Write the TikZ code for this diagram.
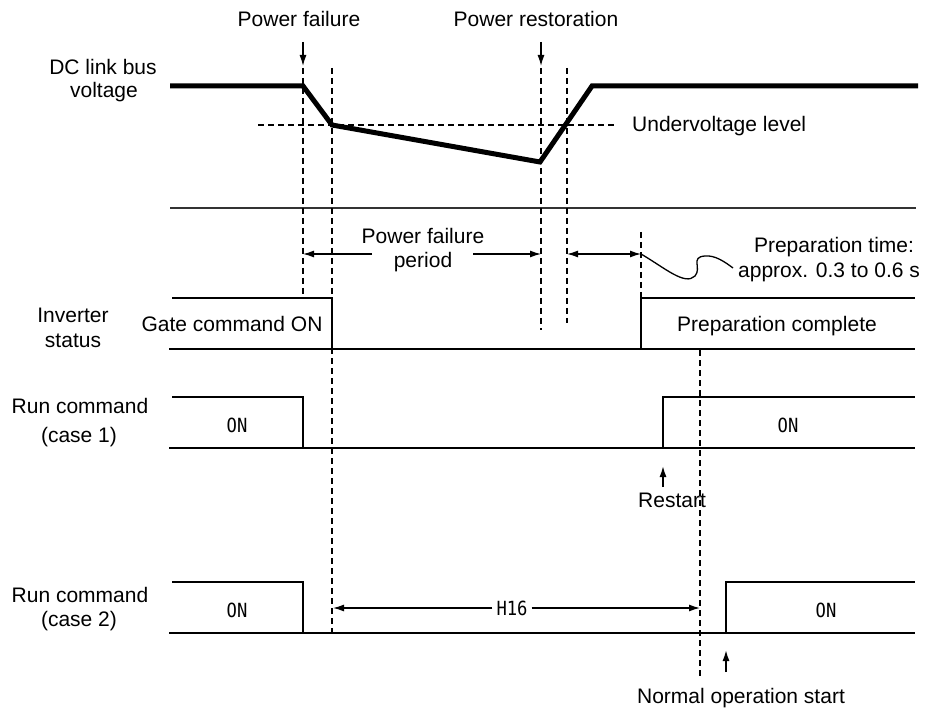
\documentclass[tikz,border=0pt]{standalone}
\usepackage{fontspec}
\setmainfont{Liberation Sans}
\newfontfamily\onfont[FakeStretch=0.88]{DejaVu Sans Mono}
\usetikzlibrary{arrows.meta}
\begin{document}
\begin{tikzpicture}[x=1pt,y=-1pt,
  lbl/.style={font=\fontsize{21}{25}\selectfont, inner sep=0pt, anchor=base},
  onl/.style={font=\onfont\fontsize{19.5}{22}\selectfont, inner sep=0pt},
  sig/.style={line width=1.6pt},
  sepline/.style={line width=1.2pt, black!80},
  bus/.style={line width=5pt, line join=miter},
  dsh/.style={dash pattern=on 6pt off 4pt, line width=1.3pt},
  bigdsh/.style={dash pattern=on 6pt off 4pt, line width=2.4pt},
  arr/.style={-{Latex[length=11pt,width=7pt]}, line width=1.3pt},
  darr/.style={{Latex[length=11pt,width=7pt]}-{Latex[length=11pt,width=7pt]}, line width=1.3pt},
]
\useasboundingbox (0,0) rectangle (928,708);

% ---------- labels ----------
\node[lbl] (pf) at (299,27) {Power failure};
\node[lbl] (pr) at (536,27) {Power restoration};
\node[lbl] (dca) at (103,75) {DC link bus};
\node[lbl] (dcb) at (104,98) {voltage};
\node[lbl, anchor=base west] (uv) at (632,132) {Undervoltage level};
\node[lbl] (pfpa) at (423,244) {Power failure};
\node[lbl] (pfpb) at (423,268) {period};
\node[lbl] (pta) at (834,253) {Preparation time:};
\node[lbl] (ptb) at (829,278) {approx. 0.3 to 0.6 s};
\node[lbl] (inva) at (73,323) {Inverter};
\node[lbl] (invb) at (73,347) {status};
\node[lbl] (gate) at (232,331) {Gate command ON};
\node[lbl] (prep) at (777,331) {Preparation complete};
\node[lbl] (rc1a) at (80,413) {Run command};
\node[lbl] (rc1b) at (79,442) {(case 1)};
\node[lbl] (rest) at (672,507) {Restart};
\node[lbl] (rc2a) at (80,602) {Run command};
\node[lbl] (rc2b) at (79,626) {(case 2)};
\node[lbl] (nos) at (741,703) {Normal operation start};
\node[onl] (on1) at (237,425) {ON};
\node[onl] (on2) at (788,425) {ON};
\node[onl] (on3) at (237,610) {ON};
\node[onl] (on4) at (826,610) {ON};
\node[onl, fill=white, inner xsep=4pt] (h16) at (512,608) {H16};

% ---------- DC link bus voltage ----------
\draw[bus] (170,86) -- (303,86) -- (332,125) -- (540,162) -- (592,86) -- (918,86);
\draw[dsh] (258,125) -- (617,125);
\draw[sepline] (170,208) -- (916,208);

% ---------- event markers ----------
\coordinate (pfT) at (303,42);  \coordinate (pfB) at (303,66);
\coordinate (prT) at (541,42);  \coordinate (prB) at (541,66);
\draw[arr] (pfT) -- (pfB);
\draw[arr] (prT) -- (prB);
\draw[dsh] (303,68) -- (303,297);
\draw[dsh] (332,68) -- (332,632);
\draw[dsh] (541,68) -- (541,330);
\draw[dsh] (567,68) -- (567,323);
\draw[dsh] (641,232) -- (641,297);
\draw[bigdsh] (700,350) -- (700,677);

% ---------- power failure period ----------
\coordinate (p1) at (303,254); \coordinate (p1s) at (372,254);
\coordinate (p2) at (541,254); \coordinate (p2s) at (473,254);
\coordinate (p3) at (567,254); \coordinate (p4) at (641,254);
\draw[arr] (p1s) -- (p1);
\draw[arr] (p2s) -- (p2);
\draw[darr] (p3) -- (p4);
\coordinate (wv) at (733,268);
\draw[line width=1.3pt] (p4) .. controls (665,268) and (685,286) .. (695,276)
   .. controls (702,268) and (690,257) .. (705,256)
   .. controls (715,255) and (725,262) .. (wv);

% ---------- inverter status ----------
\draw[sig] (172,298) -- (332,298) -- (332,349);
\draw[sig] (169,349) -- (915,349);
\draw[sig] (641,349) -- (641,298) -- (915,298);

% ---------- run command case 1 ----------
\draw[sig] (172,397) -- (303,397) -- (303,448);
\draw[sig] (169,448) -- (915,448);
\draw[sig] (663,448) -- (663,397) -- (915,397);
\coordinate (rsB) at (663,487); \coordinate (rsT) at (663,466);
\draw[arr, line width=1.6pt] (rsB) -- (rsT);

% ---------- run command case 2 ----------
\draw[sig] (172,582) -- (303,582) -- (303,633);
\draw[sig] (169,633) -- (915,633);
\draw[sig] (726,633) -- (726,582) -- (915,582);
\coordinate (h1) at (333,608); \coordinate (h2) at (700,608);
\draw[arr] (h16.west) -- (h1);
\draw[arr] (h16.east) -- (h2);
\coordinate (noB) at (726,672); \coordinate (noT) at (726,650);
\draw[arr, line width=1.6pt] (noB) -- (noT);
\end{tikzpicture}
\end{document}
